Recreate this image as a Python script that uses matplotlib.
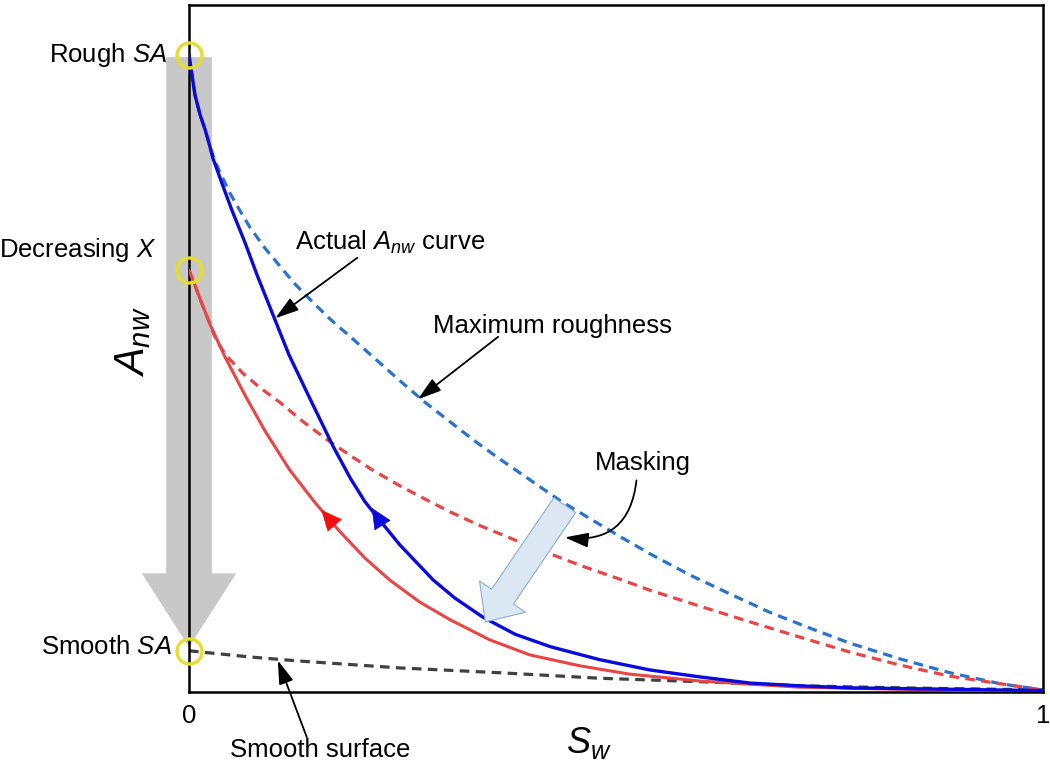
import matplotlib
matplotlib.use("Agg")
import matplotlib.pyplot as plt
from matplotlib.patches import FancyArrowPatch

plt.rcParams['font.family'] = ['Liberation Sans', 'DejaVu Sans']
plt.rcParams['mathtext.fontset'] = 'custom'
plt.rcParams['mathtext.rm'] = 'Liberation Sans'
plt.rcParams['mathtext.it'] = 'Liberation Sans:italic'

# curves (Sw on x, Anw on y, both 0..1)
actual_x = [0.0, 0.0035, 0.007, 0.013, 0.019, 0.024, 0.028, 0.039, 0.050, 0.065, 0.080,
            0.099, 0.117, 0.142, 0.169, 0.189, 0.206, 0.224, 0.247, 0.286, 0.311, 0.344,
            0.382, 0.423, 0.481, 0.540, 0.598, 0.657, 0.715, 0.774, 0.891, 1.0]
actual_y = [0.927, 0.898, 0.869, 0.840, 0.818, 0.796, 0.777, 0.739, 0.702, 0.656, 0.606,
            0.547, 0.491, 0.426, 0.357, 0.311, 0.277, 0.249, 0.214, 0.163, 0.137, 0.109,
            0.084, 0.066, 0.047, 0.032, 0.022, 0.013, 0.009, 0.006, 0.004, 0.002]

maxrough_x = [0.0, 0.0035, 0.007, 0.013, 0.019, 0.024, 0.030, 0.036, 0.048, 0.060, 0.071,
              0.089, 0.107, 0.124, 0.142, 0.165, 0.189, 0.218, 0.247, 0.276, 0.306, 0.335,
              0.364, 0.399, 0.434, 0.470, 0.505, 0.540, 0.587, 0.633, 0.680, 0.727, 0.774,
              0.833, 0.891, 0.950, 1.0]
maxrough_y = [0.927, 0.898, 0.869, 0.840, 0.818, 0.796, 0.774, 0.757, 0.726, 0.700, 0.677,
              0.646, 0.619, 0.594, 0.571, 0.543, 0.517, 0.485, 0.453, 0.422, 0.393, 0.365,
              0.339, 0.309, 0.279, 0.252, 0.226, 0.201, 0.170, 0.143, 0.116, 0.093, 0.071,
              0.048, 0.028, 0.012, 0.003]

red_x = [0.0, 0.007, 0.013, 0.025, 0.042, 0.066, 0.089, 0.118, 0.148, 0.177, 0.206, 0.235,
         0.270, 0.306, 0.352, 0.399, 0.458, 0.516, 0.598, 0.715, 0.833, 1.0]
red_y = [0.614, 0.592, 0.572, 0.534, 0.488, 0.431, 0.380, 0.323, 0.275, 0.233, 0.195, 0.163,
         0.131, 0.105, 0.076, 0.054, 0.038, 0.026, 0.016, 0.007, 0.004, 0.001]

reddash_x = [0.0, 0.007, 0.013, 0.025, 0.030, 0.036, 0.044, 0.054, 0.063, 0.083, 0.107,
             0.133, 0.162, 0.189, 0.215, 0.247, 0.276, 0.306, 0.341, 0.384, 0.423, 0.461,
             0.505, 0.540, 0.598, 0.657, 0.715, 0.774, 0.833, 0.891, 0.950, 1.0]
reddash_y = [0.614, 0.592, 0.572, 0.534, 0.518, 0.504, 0.489, 0.476, 0.464, 0.443, 0.421,
             0.394, 0.367, 0.344, 0.323, 0.300, 0.281, 0.262, 0.242, 0.220, 0.201, 0.183,
             0.164, 0.148, 0.125, 0.102, 0.080, 0.058, 0.039, 0.023, 0.012, 0.003]

smooth_x = [0.0, 0.071, 0.130, 0.247, 0.364, 0.481, 0.598, 0.715, 0.833, 1.0]
smooth_y = [0.060, 0.051, 0.045, 0.035, 0.028, 0.020, 0.015, 0.009, 0.006, 0.003]

# end points marked with circles
point_x = [0.0, 0.0, 0.0]
point_y = [0.927, 0.614, 0.060]
point_labels = ['Rough $SA$', 'Decreasing $X$', 'Smooth $SA$']

fig = plt.figure(figsize=(10.5, 7.67), dpi=100)
ax = fig.add_axes([0.18, 0.0978, 0.8133, 0.8957])
ax.set_xlim(0, 1)
ax.set_ylim(0, 1)
ax.set_xticks([])
ax.set_yticks([])
for s in ax.spines.values():
    s.set_linewidth(1.8)

# big grey arrow behind the y axis
grey = FancyArrowPatch((0, 0.924), (0, 0.0655),
                       arrowstyle='simple,head_length=53,head_width=68,tail_width=33',
                       mutation_scale=1, color='#C8C8C8', lw=0,
                       shrinkA=0, shrinkB=0, clip_on=False, zorder=0.5)
ax.add_patch(grey)

dash = (0, (3, 2))
ax.plot(smooth_x, smooth_y, color='#404040', lw=2.3, ls=dash, zorder=2)
ax.plot(maxrough_x, maxrough_y, color='#2A72CF', lw=2.3, ls=dash, zorder=2)
ax.plot(reddash_x, reddash_y, color='#E84545', lw=2.3, ls=dash, zorder=2)
ax.plot(red_x, red_y, color='#E84545', lw=2.2, zorder=3, solid_capstyle='round')
ax.plot(actual_x, actual_y, color='#0A0ADC', lw=2.4, zorder=3, solid_capstyle='round')

# direction heads on the solid curves
for tip, tail, col in [((0.155, 0.265), (0.171, 0.242), '#F01010'),
                       ((0.214, 0.268), (0.227, 0.242), '#0A0ADC')]:
    ax.annotate('', xy=tip, xytext=tail,
                arrowprops=dict(arrowstyle='-|>,head_length=0.7,head_width=0.32',
                                mutation_scale=20, color=col, lw=0.5,
                                shrinkA=0, shrinkB=0), zorder=4)

# masking arrow
mask = FancyArrowPatch((0.440, 0.272), (0.347, 0.102),
                       arrowstyle='simple,head_length=22,head_width=40,tail_width=19',
                       mutation_scale=1, facecolor='#DCE7F4', edgecolor='#8AAECF',
                       lw=0.8, shrinkA=0, shrinkB=0, zorder=5)
ax.add_patch(mask)

ax.plot(point_x, point_y, 'o', ms=18, mfc='none', mec='#E6DE2E', mew=2.4,
        clip_on=False, zorder=6)

fs = 18.5
ax.text(-0.026, point_y[0], point_labels[0], ha='right', va='center', fontsize=fs)
ax.text(-0.038, point_y[1] + 0.03, point_labels[1], ha='right', va='center', fontsize=fs)
ax.text(-0.02, point_y[2] + 0.006, point_labels[2], ha='right', va='center', fontsize=fs)

ax.text(0, -0.035, '0', ha='center', va='center', fontsize=fs)
ax.text(1, -0.035, '1', ha='center', va='center', fontsize=fs)
ax.text(0.468, -0.074, '$S_w$', ha='center', va='center', fontsize=26)
ax.text(-0.065, 0.51, '$A_{nw}$', ha='center', va='center', fontsize=30, rotation=90)

arrow_kw = dict(arrowstyle='-|>,head_length=0.8,head_width=0.25', mutation_scale=18,
                color='black', lw=1.3, shrinkA=0, shrinkB=0)

ax.text(0.124, 0.654, 'Actual $A_{nw}$ curve', ha='left', va='center', fontsize=fs)
ax.annotate('', xy=(0.101, 0.544), xytext=(0.197, 0.632), arrowprops=arrow_kw)

ax.text(0.286, 0.533, 'Maximum roughness', ha='left', va='center', fontsize=fs)
ax.annotate('', xy=(0.268, 0.426), xytext=(0.362, 0.517), arrowprops=arrow_kw)

ax.text(0.475, 0.334, 'Masking', ha='left', va='center', fontsize=fs)
ax.annotate('', xy=(0.440, 0.225), xytext=(0.524, 0.308),
            arrowprops=dict(arrow_kw, connectionstyle='arc3,rad=-0.5'))

ax.text(0.048, -0.085, 'Smooth surface', ha='left', va='center', fontsize=fs)
ax.annotate('', xy=(0.104, 0.046), xytext=(0.138, -0.066), arrowprops=arrow_kw,
            annotation_clip=False)

fig.savefig('out.png', dpi=100)
